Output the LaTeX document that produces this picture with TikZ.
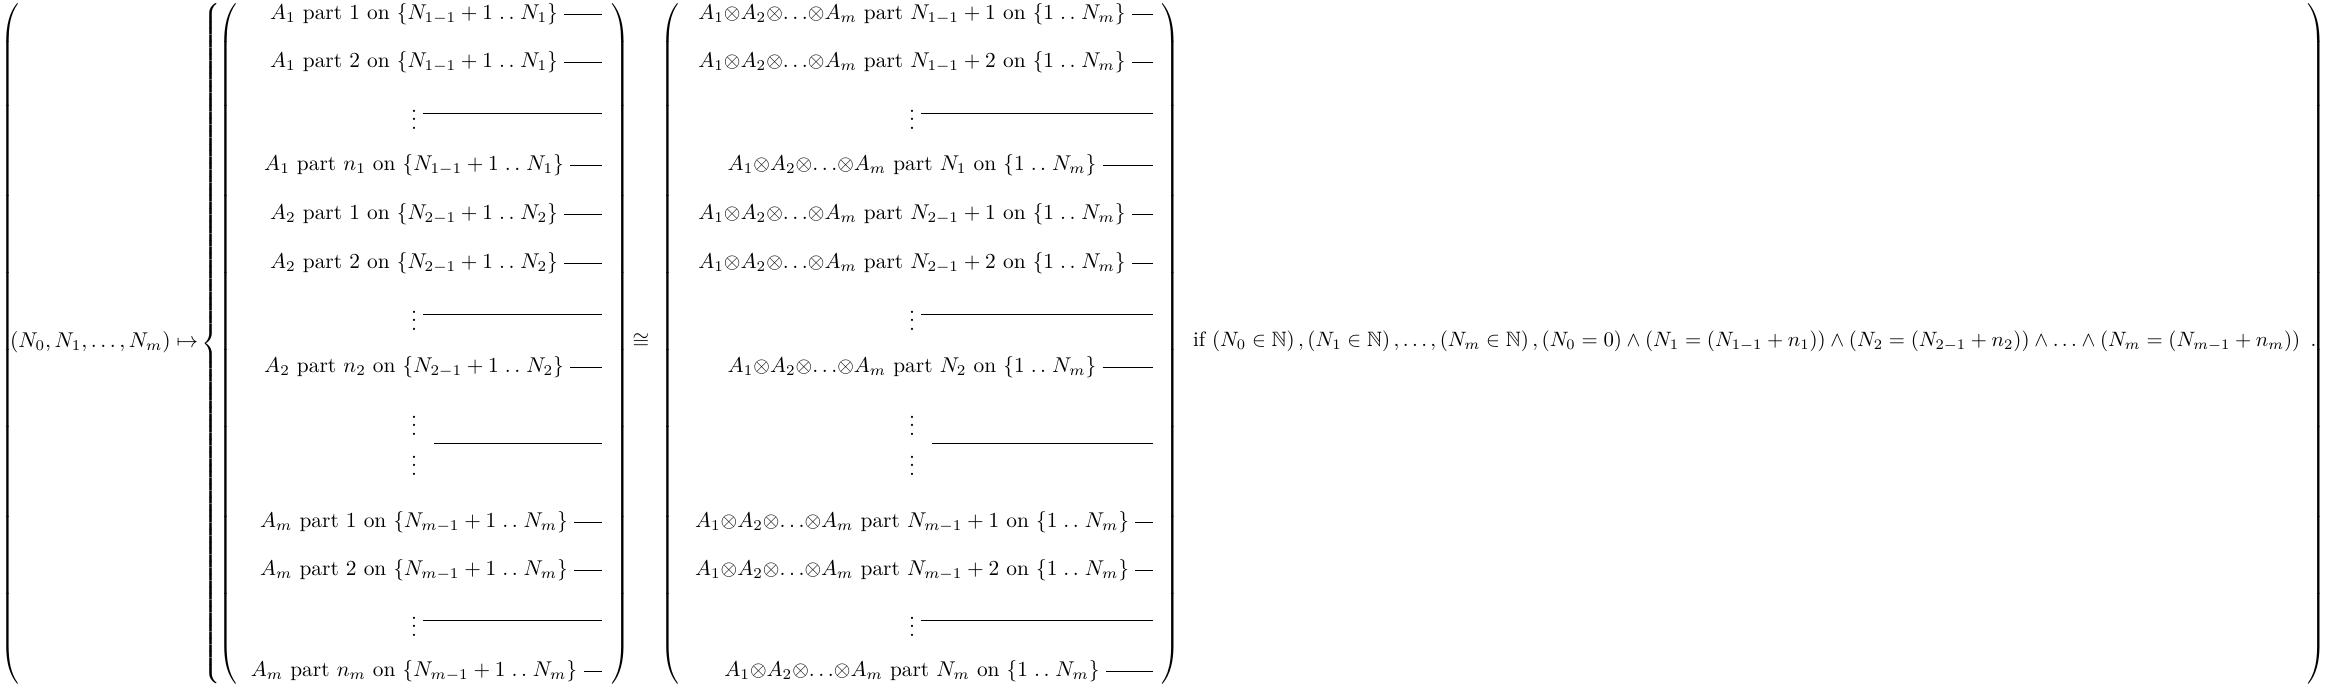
\documentclass[tikz,border=0pt]{standalone}
\usepackage{amssymb}
\usepackage{graphicx}
\newcommand{\dotsrel}{\mathrel{\ldotp\ldotp}}
\newcommand{\tallL}[2]{{\delimitershortfall=0pt\delimiterfactor=1000$\left#1\vcenter to #2{\vfil}\right.$}}
\newcommand{\tallR}[2]{{\delimitershortfall=0pt\delimiterfactor=1000$\left.\vcenter to #2{\vfil}\right#1$}}
\newcommand{\tens}{A_1{\otimes}A_2{\otimes}{\ldots}{\otimes}A_m}
\tikzset{
  delim/.style={inner sep=0pt, outer sep=0pt},
  cell/.style={inner sep=3pt, outer sep=0pt},
  wire/.style={line width=0.4pt},
  formula/.style={inner sep=0pt, outer sep=0pt}
}
\begin{document}
\begin{tikzpicture}[x=0.4673pt,y=-0.4673pt]
\useasboundingbox (0,0) rectangle (2326,687);
% outer delimiters
\node[delim, anchor=west] (oL) at (0,343.5) {\tallL({318pt}};
\node[delim, anchor=east] (oR) at (2326,343.5) {\tallR){318pt}};
% left-hand side
\node[formula, anchor=west] (lhs) at (10,342) {$(N_0,N_1,\ldots,N_m)\mapsto$};
\node[delim, anchor=west] (br) at (201,343.5) {\tallL\{{314pt}};
\node[delim, anchor=west] (m1L) at (218,343.5) {\tallL({314pt}};
\node[delim, anchor=east] (m1R) at (630,343.5) {\tallR){314pt}};
\node[formula] (iso) at (641,341) {$\cong$};
\node[delim, anchor=west] (m2L) at (660,343.5) {\tallL({314pt}};
\node[delim, anchor=east] (m2R) at (1180,343.5) {\tallR){314pt}};
\node[formula, anchor=west] (cond) at (1193,341) {\scalebox{0.972}{if $\left(N_0\in\mathbb{N}\right),\left(N_1\in\mathbb{N}\right),\ldots,\left(N_m\in\mathbb{N}\right),\left(N_0=0\right)\wedge\left(N_1=\left(N_{1-1}+n_1\right)\right)\wedge\left(N_2=\left(N_{2-1}+n_2\right)\right)\wedge\ldots\wedge\left(N_m=\left(N_{m-1}+n_m\right)\right)\ .$}};
% wire ends
\coordinate (e1) at (602,0);
\coordinate (e2) at (1153,0);
% matrix 1
\node[cell] (a1) at (414,14) {$A_1$ part $1$ on $\{N_{1-1}+1\dotsrel N_1\}$};
\node[cell] (a2) at (414,62) {$A_1$ part $2$ on $\{N_{1-1}+1\dotsrel N_1\}$};
\node[cell] (a3) at (414,113) {$\vdots$};
\node[cell] (a4) at (414,165) {$A_1$ part $n_1$ on $\{N_{1-1}+1\dotsrel N_1\}$};
\node[cell] (a5) at (414,214) {$A_2$ part $1$ on $\{N_{2-1}+1\dotsrel N_2\}$};
\node[cell] (a6) at (414,263) {$A_2$ part $2$ on $\{N_{2-1}+1\dotsrel N_2\}$};
\node[cell] (a7) at (414,314) {$\vdots$};
\node[cell] (a8) at (414,367) {$A_2$ part $n_2$ on $\{N_{2-1}+1\dotsrel N_2\}$};
\node[cell] (a9) at (414,443) {$\begin{array}{c}\vdots\\\vdots\end{array}$};
\node[cell] (a10) at (414,522) {$A_m$ part $1$ on $\{N_{m-1}+1\dotsrel N_m\}$};
\node[cell] (a11) at (414,570) {$A_m$ part $2$ on $\{N_{m-1}+1\dotsrel N_m\}$};
\node[cell] (a12) at (414,620) {$\vdots$};
\node[cell] (a13) at (414,671) {$A_m$ part $n_m$ on $\{N_{m-1}+1\dotsrel N_m\}$};
% matrix 2
\node[cell] (b1) at (912,14) {$\tens$ part $N_{1-1}+1$ on $\{1\dotsrel N_m\}$};
\node[cell] (b2) at (912,62) {$\tens$ part $N_{1-1}+2$ on $\{1\dotsrel N_m\}$};
\node[cell] (b3) at (912,113) {$\vdots$};
\node[cell] (b4) at (912,165) {$\tens$ part $N_1$ on $\{1\dotsrel N_m\}$};
\node[cell] (b5) at (912,214) {$\tens$ part $N_{2-1}+1$ on $\{1\dotsrel N_m\}$};
\node[cell] (b6) at (912,263) {$\tens$ part $N_{2-1}+2$ on $\{1\dotsrel N_m\}$};
\node[cell] (b7) at (912,314) {$\vdots$};
\node[cell] (b8) at (912,367) {$\tens$ part $N_2$ on $\{1\dotsrel N_m\}$};
\node[cell] (b9) at (912,443) {$\begin{array}{c}\vdots\\\vdots\end{array}$};
\node[cell] (b10) at (912,522) {$\tens$ part $N_{m-1}+1$ on $\{1\dotsrel N_m\}$};
\node[cell] (b11) at (912,570) {$\tens$ part $N_{m-1}+2$ on $\{1\dotsrel N_m\}$};
\node[cell] (b12) at (912,620) {$\vdots$};
\node[cell] (b13) at (912,671) {$\tens$ part $N_m$ on $\{1\dotsrel N_m\}$};
% wires
\foreach \i in {1,...,13} {
  \draw[wire] (a\i.east) -- (a\i.east -| e1);
  \draw[wire] (b\i.east) -- (b\i.east -| e2);
}
\end{tikzpicture}
\end{document}
